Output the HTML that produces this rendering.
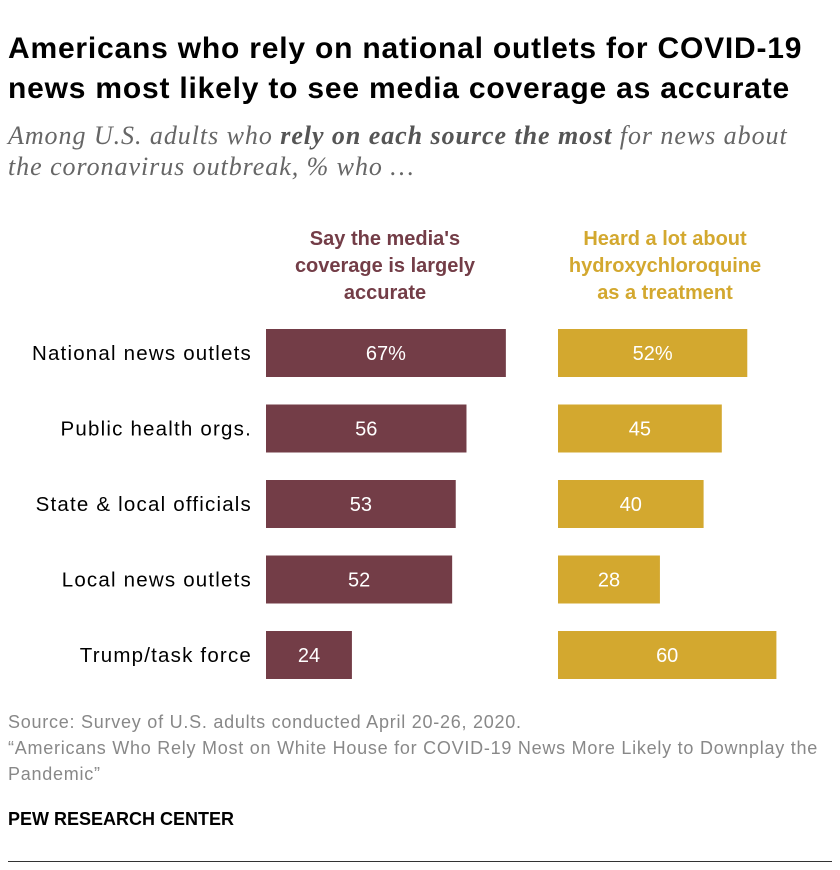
<!DOCTYPE html>
<html><head><meta charset="utf-8"><style>
body{margin:0;background:#fff;width:840px;height:870px;position:relative;font-family:"Liberation Sans",sans-serif;overflow:hidden}
.t{position:absolute;left:8px;top:29px;font-size:30px;font-weight:bold;color:#000;line-height:40px;letter-spacing:0.8px;white-space:nowrap}
.s{position:absolute;left:8px;top:120px;font-family:"Liberation Serif",serif;font-style:italic;font-size:26px;color:#666;line-height:31px;letter-spacing:0.95px;white-space:nowrap}
.s b{color:#555}
.h{position:absolute;width:280px;text-align:center;font-weight:bold;font-size:20px;line-height:27px;top:226px}
.src{position:absolute;left:8px;top:709px;font-size:18px;color:#888;line-height:26px;letter-spacing:0.75px;white-space:nowrap}
.pew{position:absolute;left:8px;top:809px;font-size:18px;font-weight:bold;color:#000}
.rule{position:absolute;left:8px;top:861px;width:824px;height:1px;background:#333}
</style></head><body>
<div class="t">Americans who rely on national outlets for COVID-19<br>news most likely to see media coverage as accurate</div>
<div class="s">Among U.S. adults who <b>rely on each source the most</b> for news about<br>the coronavirus outbreak, % who …</div>
<div class="h" style="left:245px;color:#733d47">Say the media's<br>coverage is largely<br>accurate</div>
<div class="h" style="left:525px;color:#d3a82f">Heard a lot about<br>hydroxychloroquine<br>as a treatment</div>
<svg id="chart" width="840" height="870" style="position:absolute;left:0;top:0"></svg>
<div class="src">Source: Survey of U.S. adults conducted April 20-26, 2020.<br>“Americans Who Rely Most on White House for COVID-19 News More Likely to Downplay the<br>Pandemic”</div>
<div class="pew">PEW RESEARCH CENTER</div>
<div class="rule"></div>
<script>
const categories=["National news outlets","Public health orgs.","State & local officials","Local news outlets","Trump/task force"];
const accurate=[67,56,53,52,24];
const heardHcq=[52,45,40,28,60];
const svg=document.getElementById('chart');
const NS='http://www.w3.org/2000/svg';
const scaleA=v=>v*3.58;
const scaleB=v=>v*3.64;
const rowY=i=>329+i*75.5;
const bh=48;
function mk(tag,attrs){const e=document.createElementNS(NS,tag);for(const k in attrs)e.setAttribute(k,attrs[k]);svg.appendChild(e);return e;}
categories.forEach((c,i)=>{
  const y=rowY(i);
  const l=mk('text',{x:252,y:y+bh/2+7,'text-anchor':'end','font-size':20.5,'letter-spacing':1.2,'font-family':'Liberation Sans, sans-serif',fill:'#000'});
  l.textContent=c;
  
  
  [[accurate,266,'#733d47','accurate-bar',scaleA],[heardHcq,558,'#d3a82f','hcq-bar',scaleB]].forEach(([arr,x0,col,nm,sc])=>{
    const w=sc(arr[i]);
    const r=mk('rect',{x:x0,y:y,width:w,height:bh,fill:col});
    
    
    const t=mk('text',{x:x0+w/2,y:y+bh/2+7,'text-anchor':'middle','font-size':20,'font-family':'Liberation Sans, sans-serif',fill:'#fff'});
    t.textContent=arr[i]+(i===0?'%':'');
    
    
  });
});
</script>
</body></html>
